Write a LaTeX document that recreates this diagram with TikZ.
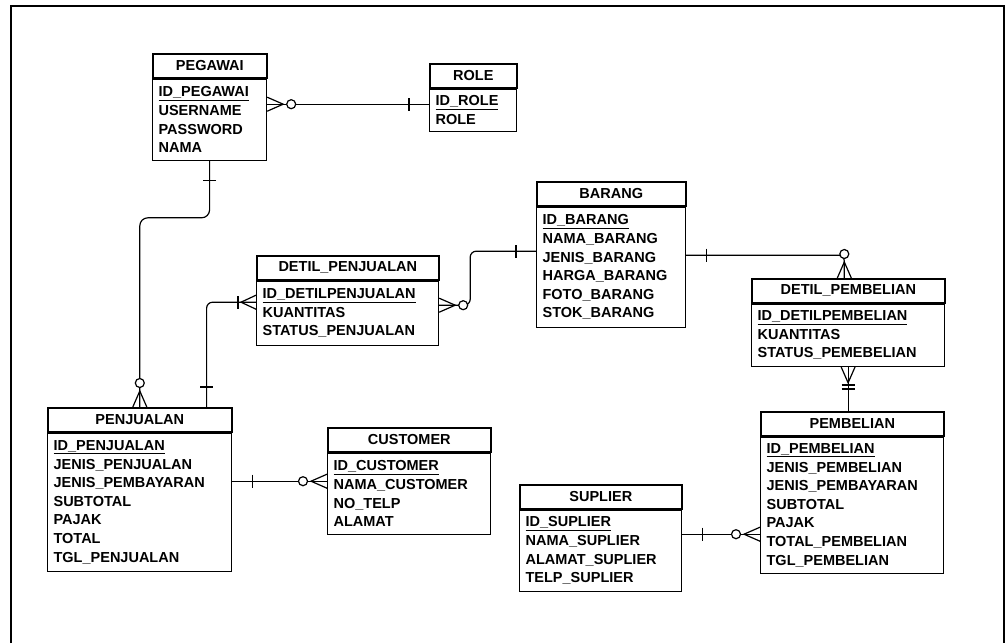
\documentclass[tikz,border=0pt]{standalone}
\usepackage{fontspec}
\setmainfont{Liberation Sans}

\tikzset{
  entity/.style={draw, line width=1.6pt, inner sep=0pt, minimum height=24pt, anchor=north west,
    font=\fontsize{14.5}{18.6}\selectfont\bfseries},
  fields/.style={draw, line width=1.2pt, inner xsep=6pt, inner ysep=0pt, anchor=north west, align=left,
    font=\fontsize{14.5}{18.6}\selectfont\bfseries},
  conn/.style={line width=1.2pt},
  many/.pic={\draw[line width=1.2pt] (0,-7) -- (16,0) -- (0,7);},
  zeromany/.pic={\draw[line width=1.2pt] (0,-7) -- (16,0) -- (0,7);
    \filldraw[line width=1.2pt, fill=white] (24,0) circle (4.5pt);},
  one/.pic={\draw[line width=1.2pt] (20,-6.5) -- (20,6.5);},
  onemany/.pic={\draw[line width=1.2pt] (0,-7) -- (15,0) -- (0,7);
    \draw[line width=1.2pt] (18,-6.5) -- (18,6.5);},
  onlyone/.pic={\draw[line width=1.2pt] (22,-6.5) -- (22,6.5) (26,-6.5) -- (26,6.5);}
}

\begin{document}
\begin{tikzpicture}[x=1pt, y=-1pt]
\useasboundingbox (0,0) rectangle (1008,643);
% frame
\draw[line width=1.6pt] (11,643) -- (11,6) -- (1004,6) -- (1004,643);

% PEGAWAI
\node[entity, minimum width=114pt] (pegawai) at (152,53) {PEGAWAI};
\node[fields, text width=102pt, minimum height=81pt] (pegawai-f) at (pegawai.south west)
  {\underline{ID\_PEGAWAI}\\USERNAME\\PASSWORD\\NAMA};

% ROLE
\node[entity, minimum width=87pt] (role) at (429,63) {ROLE};
\node[fields, text width=75pt, minimum height=42pt] (role-f) at (role.south west)
  {\underline{ID\_ROLE}\\ROLE};

% BARANG
\node[entity, minimum width=149pt] (barang) at (536,181) {BARANG};
\node[fields, text width=137pt, minimum height=120pt] (barang-f) at (barang.south west)
  {\underline{ID\_BARANG}\\NAMA\_BARANG\\JENIS\_BARANG\\HARGA\_BARANG\\FOTO\_BARANG\\STOK\_BARANG};

% DETIL_PENJUALAN
\node[entity, minimum width=182pt] (detilpj) at (256,255) {DETIL\_PENJUALAN};
\node[fields, text width=170pt, minimum height=64pt] (detilpj-f) at (detilpj.south west)
  {\underline{ID\_DETILPENJUALAN}\\KUANTITAS\\STATUS\_PENJUALAN};

% DETIL_PEMBELIAN
\node[entity, minimum width=193pt] (detilpb) at (751,278) {DETIL\_PEMBELIAN};
\node[fields, text width=181pt, minimum height=62pt] (detilpb-f) at (detilpb.south west)
  {\underline{ID\_DETILPEMBELIAN}\\KUANTITAS\\STATUS\_PEMEBELIAN};

% PENJUALAN
\node[entity, minimum width=184pt] (penjualan) at (47,407) {PENJUALAN};
\node[fields, text width=172pt, minimum height=138pt] (penjualan-f) at (penjualan.south west)
  {\underline{ID\_PENJUALAN}\\JENIS\_PENJUALAN\\JENIS\_PEMBAYARAN\\SUBTOTAL\\PAJAK\\TOTAL\\TGL\_PENJUALAN};

% CUSTOMER
\node[entity, minimum width=163pt] (customer) at (327,427) {CUSTOMER};
\node[fields, text width=151pt, minimum height=81pt] (customer-f) at (customer.south west)
  {\underline{ID\_CUSTOMER}\\NAMA\_CUSTOMER\\NO\_TELP\\ALAMAT};

% PEMBELIAN
\node[entity, minimum width=183pt] (pembelian) at (760,411) {PEMBELIAN};
\node[fields, text width=171pt, minimum height=136pt] (pembelian-f) at (pembelian.south west)
  {\underline{ID\_PEMBELIAN}\\JENIS\_PEMBELIAN\\JENIS\_PEMBAYARAN\\SUBTOTAL\\PAJAK\\TOTAL\_PEMBELIAN\\TGL\_PEMBELIAN};

% SUPLIER
\node[entity, minimum width=162pt] (suplier) at (519,484) {SUPLIER};
\node[fields, text width=150pt, minimum height=81pt] (suplier-f) at (suplier.south west)
  {\underline{ID\_SUPLIER}\\NAMA\_SUPLIER\\ALAMAT\_SUPLIER\\TELP\_SUPLIER};

% relations
\coordinate (c1) at ([yshift=15.5pt]pegawai-f.east);
\draw[conn] (c1) -- (c1 -| role-f.west);
\pic at (c1) {zeromany};
\pic[rotate=180] at (c1 -| role-f.west) {one};

\draw[conn, rounded corners=8pt] (pegawai-f.south) -- ++(0,57) -| (penjualan.north);
\pic[rotate=-90] at (pegawai-f.south) {one};
\pic[rotate=90] at (penjualan.north) {zeromany};

\coordinate (c3) at ([xshift=-26pt]penjualan.north east);
\draw[conn, rounded corners=6pt] (c3) |- ([yshift=11pt]detilpj-f.west);
\pic[rotate=90] at (c3) {one};
\pic[rotate=180] at ([yshift=11pt]detilpj-f.west) {onemany};

\draw[conn, rounded corners=6pt] ([yshift=8pt]detilpj-f.east) -- ++(31,0) |- ([yshift=16pt]barang-f.west);
\pic at ([yshift=8pt]detilpj-f.east) {zeromany};
\pic[rotate=180] at ([yshift=16pt]barang-f.west) {one};

\draw[conn, rounded corners=6pt] ([yshift=12pt]barang-f.east) -| ([xshift=-4pt]detilpb.north);
\pic at ([yshift=12pt]barang-f.east) {one};
\pic[rotate=90] at ([xshift=-4pt]detilpb.north) {zeromany};

\draw[conn] (detilpb-f.south) -- (detilpb-f.south |- pembelian.north);
\pic[rotate=-90] at (detilpb-f.south) {many};
\pic[rotate=90] at (detilpb-f.south |- pembelian.north) {onlyone};

\coordinate (c7) at ([yshift=21pt]penjualan-f.east);
\draw[conn] (c7) -- (c7 -| customer-f.west);
\pic at (c7) {one};
\pic[rotate=180] at (c7 -| customer-f.west) {zeromany};

\coordinate (c8) at ([yshift=16.5pt]suplier-f.east);
\draw[conn] (c8) -- (c8 -| pembelian-f.west);
\pic at (c8) {one};
\pic[rotate=180] at (c8 -| pembelian-f.west) {zeromany};
\end{tikzpicture}
\end{document}
